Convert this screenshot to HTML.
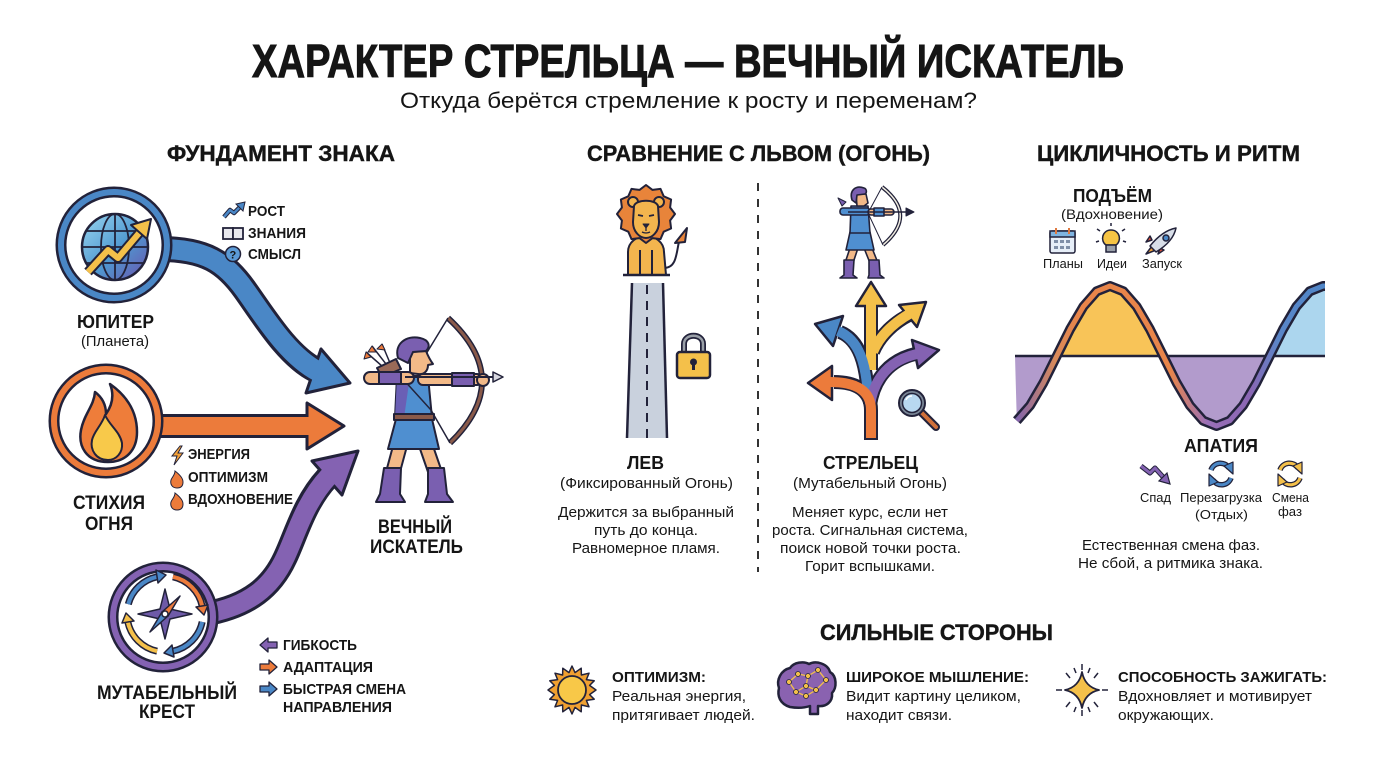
<!DOCTYPE html>
<html><head><meta charset="utf-8"><style>
html,body{margin:0;padding:0;background:#fff;}
svg{display:block;}
text{font-family:"Liberation Sans","DejaVu Sans",sans-serif;fill:#151515;}
.b{font-weight:700;}
.t{stroke:#151515;stroke-width:1;}
.h{stroke:#151515;stroke-width:0.4;}
</style></head><body>
<svg width="1376" height="768" viewBox="0 0 1376 768" xmlns="http://www.w3.org/2000/svg">
<defs>
<linearGradient id="gl" x1="0" y1="0" x2="1" y2="1"><stop offset="0" stop-color="#9ad6f0"/><stop offset="0.55" stop-color="#4f98d0"/><stop offset="1" stop-color="#6a52ae"/></linearGradient>
<linearGradient id="wv" gradientUnits="userSpaceOnUse" x1="1015" y1="0" x2="1325" y2="0">
<stop offset="0" stop-color="#7d62b0"/><stop offset="0.13" stop-color="#d88a5a"/><stop offset="0.2" stop-color="#e8854a"/><stop offset="0.5" stop-color="#e8854a"/><stop offset="0.62" stop-color="#9a70b8"/><stop offset="0.76" stop-color="#8a66b4"/><stop offset="0.85" stop-color="#5a86c8"/><stop offset="1" stop-color="#4f86c8"/></linearGradient>
</defs>
<rect width="1376" height="768" fill="#fff"/>

<!-- Titles -->
<text x="252" y="77" font-size="46" class="b t" textLength="872" lengthAdjust="spacingAndGlyphs">ХАРАКТЕР СТРЕЛЬЦА — ВЕЧНЫЙ ИСКАТЕЛЬ</text>
<text x="400" y="108" font-size="22" textLength="577" lengthAdjust="spacingAndGlyphs">Откуда берётся стремление к росту и переменам?</text>
<text x="167" y="161" font-size="22" class="b h" textLength="228" lengthAdjust="spacingAndGlyphs">ФУНДАМЕНТ ЗНАКА</text>
<text x="587" y="161" font-size="22" class="b h" textLength="343" lengthAdjust="spacingAndGlyphs">СРАВНЕНИЕ С ЛЬВОМ (ОГОНЬ)</text>
<text x="1037" y="161" font-size="22" class="b h" textLength="263" lengthAdjust="spacingAndGlyphs">ЦИКЛИЧНОСТЬ И РИТМ</text>

<!-- ===== LEFT SECTION ===== -->
<path d="M160,249 C205,249 225,262 245,290 C265,318 288,356 316,370" fill="none" stroke="#22223a" stroke-width="26"/>
<polygon points="350,383 321,349 306,393" fill="#4a87c6" stroke="#22223a" stroke-width="3" stroke-linejoin="round"/>
<path d="M160,249 C205,249 225,262 245,290 C265,318 288,356 319,372" fill="none" stroke="#4a87c6" stroke-width="20"/>
<rect x="150" y="414" width="158" height="24" fill="#22223a"/>
<polygon points="344,426 307,403 307,449" fill="#ec7b3b" stroke="#22223a" stroke-width="3" stroke-linejoin="round"/>
<rect x="150" y="417" width="161" height="18" fill="#ec7b3b"/>
<path d="M205,614 C250,606 272,586 285,558 C296,535 304,503 327,478" fill="none" stroke="#22223a" stroke-width="25"/>
<polygon points="358,451 312,461 342,495" fill="#8462b2" stroke="#22223a" stroke-width="3" stroke-linejoin="round"/>
<path d="M205,614 C250,606 272,586 285,558 C296,535 304,503 329,476" fill="none" stroke="#8462b2" stroke-width="19"/>

<circle cx="114" cy="245" r="53" fill="#fff" stroke="#22223a" stroke-width="11"/>
<circle cx="114" cy="245" r="53" fill="none" stroke="#4a87c6" stroke-width="6"/>
<circle cx="115" cy="247" r="33" fill="url(#gl)" stroke="#22223a" stroke-width="2.5"/>
<g fill="none" stroke="#22223a" stroke-width="1.8">
<ellipse cx="115" cy="247" rx="14" ry="33"/>
<line x1="115" y1="214" x2="115" y2="280"/>
<line x1="87" y1="231" x2="143" y2="231"/>
<line x1="82" y1="247" x2="148" y2="247"/>
<line x1="87" y1="263" x2="143" y2="263"/>
</g>
<polyline points="88,272 108,250 118,258 140,232" fill="none" stroke="#22223a" stroke-width="10" stroke-linejoin="round"/>
<polyline points="88,272 108,250 118,258 140,232" fill="none" stroke="#f4c04a" stroke-width="6" stroke-linejoin="round"/>
<polygon points="151,219 147,239 131,225" fill="#f4c04a" stroke="#22223a" stroke-width="2" stroke-linejoin="round"/>
<text x="77" y="328" font-size="18" class="b" textLength="77" lengthAdjust="spacingAndGlyphs">ЮПИТЕР</text>
<text x="81" y="346" font-size="15" textLength="68" lengthAdjust="spacingAndGlyphs">(Планета)</text>

<circle cx="106" cy="421" r="52" fill="#fff" stroke="#22223a" stroke-width="11"/>
<circle cx="106" cy="421" r="52" fill="none" stroke="#ec7b3b" stroke-width="6"/>
<path d="M108,462 C86,462 78,446 81,430 C84,414 94,406 95,392 C103,398 106,406 106,414 C113,404 114,394 110,384 C127,396 137,412 137,432 C137,450 126,462 108,462 Z" fill="#ee7d3a" stroke="#22223a" stroke-width="2.5" stroke-linejoin="round"/>
<path d="M108,460 C96,460 90,450 92,440 C94,431 102,425 105,415 C110,426 120,432 122,443 C123,453 116,460 108,460 Z" fill="#f8c94a" stroke="#22223a" stroke-width="2" stroke-linejoin="round"/>
<text x="73" y="509" font-size="19" class="b" textLength="72" lengthAdjust="spacingAndGlyphs">СТИХИЯ</text>
<text x="85" y="530" font-size="19" class="b" textLength="48" lengthAdjust="spacingAndGlyphs">ОГНЯ</text>

<circle cx="163" cy="617" r="50" fill="#fff" stroke="#22223a" stroke-width="11"/>
<circle cx="163" cy="617" r="50" fill="none" stroke="#8462b2" stroke-width="6"/>
<g fill="none" stroke-linecap="butt">
<path d="M128.3,604.2 A38,38 0 0 1 157.1,576.8" stroke="#22223a" stroke-width="7"/>
<path d="M128.3,604.2 A38,38 0 0 1 157.1,576.8" stroke="#4a87c6" stroke-width="4"/>
<path d="M172.9,576.8 A38,38 0 0 1 202.2,606.1" stroke="#22223a" stroke-width="7"/>
<path d="M172.9,576.8 A38,38 0 0 1 202.2,606.1" stroke="#ec7b3b" stroke-width="4"/>
<path d="M202.2,621.9 A38,38 0 0 1 172.9,651.2" stroke="#22223a" stroke-width="7"/>
<path d="M202.2,621.9 A38,38 0 0 1 172.9,651.2" stroke="#4a87c6" stroke-width="4"/>
<path d="M157.1,651.2 A38,38 0 0 1 127.8,621.9" stroke="#22223a" stroke-width="7"/>
<path d="M157.1,651.2 A38,38 0 0 1 127.8,621.9" stroke="#f4c04a" stroke-width="4"/>
</g>
<g stroke="#22223a" stroke-width="1.5" stroke-linejoin="round">
<polygon points="166,575 156,570 158,583" fill="#4a87c6"/>
<polygon points="204,615 208,605 196,607" fill="#ec7b3b"/>
<polygon points="164,653 174,657 172,645" fill="#4a87c6"/>
<polygon points="126,613 122,623 134,621" fill="#f4c04a"/>
<polygon points="165,589 170,609 192,614 170,619 165,639 160,619 138,614 160,609" fill="#6e5aa8"/>
<polygon points="180,596 168,616 162,612" fill="#ec7b3b"/>
<polygon points="150,632 162,612 168,616" fill="#4a87c6"/>
<circle cx="165" cy="614" r="3" fill="#fff"/>
</g>
<text x="97" y="699" font-size="19" class="b" textLength="140" lengthAdjust="spacingAndGlyphs">МУТАБЕЛЬНЫЙ</text>
<text x="139" y="718" font-size="19" class="b" textLength="56" lengthAdjust="spacingAndGlyphs">КРЕСТ</text>

<polyline points="224,217 230,210 234,213 241,206" fill="none" stroke="#22223a" stroke-width="4.5" stroke-linejoin="round"/>
<polyline points="224,217 230,210 234,213 241,206" fill="none" stroke="#4a87c6" stroke-width="2.5" stroke-linejoin="round"/>
<polygon points="245,202 236,204 243,211" fill="#4a87c6" stroke="#22223a" stroke-width="1"/>
<text x="248" y="216" font-size="15" class="b" textLength="37" lengthAdjust="spacingAndGlyphs">РОСТ</text>
<rect x="223" y="228" width="10" height="11" fill="#e8e8ee" stroke="#22223a" stroke-width="1.8"/>
<rect x="233" y="228" width="10" height="11" fill="#e8e8ee" stroke="#22223a" stroke-width="1.8"/>
<text x="248" y="238" font-size="15" class="b" textLength="58" lengthAdjust="spacingAndGlyphs">ЗНАНИЯ</text>
<circle cx="233" cy="254" r="7.5" fill="#5b9ad6" stroke="#22223a" stroke-width="1.5"/>
<text x="229.5" y="258.5" font-size="11" class="b">?</text>
<text x="248" y="259" font-size="15" class="b" textLength="53" lengthAdjust="spacingAndGlyphs">СМЫСЛ</text>

<polygon points="180,446 172,456 177,456 174,465 183,453 178,453 182,446" fill="#f4a23a" stroke="#22223a" stroke-width="1"/>
<text x="188" y="459" font-size="15" class="b" textLength="62" lengthAdjust="spacingAndGlyphs">ЭНЕРГИЯ</text>
<path d="M177,488 C172,488 170,484 171,480 C172,477 175,475 175,471 C179,474 183,478 183,482 C183,486 181,488 177,488 Z" fill="#ec7b3b" stroke="#22223a" stroke-width="1"/>
<text x="188" y="482" font-size="15" class="b" textLength="80" lengthAdjust="spacingAndGlyphs">ОПТИМИЗМ</text>
<path d="M177,510 C172,510 170,506 171,502 C172,499 175,497 175,493 C179,496 183,500 183,504 C183,508 181,510 177,510 Z" fill="#ec7b3b" stroke="#22223a" stroke-width="1"/>
<text x="188" y="504" font-size="15" class="b" textLength="105" lengthAdjust="spacingAndGlyphs">ВДОХНОВЕНИЕ</text>

<polygon points="260,645 268,638 268,642 277,642 277,648 268,648 268,652" fill="#8462b2" stroke="#22223a" stroke-width="1.3" stroke-linejoin="round"/>
<text x="283" y="650" font-size="15" class="b" textLength="74" lengthAdjust="spacingAndGlyphs">ГИБКОСТЬ</text>
<polygon points="277,667 269,660 269,664 260,664 260,670 269,670 269,674" fill="#ec7b3b" stroke="#22223a" stroke-width="1.3" stroke-linejoin="round"/>
<text x="283" y="672" font-size="15" class="b" textLength="90" lengthAdjust="spacingAndGlyphs">АДАПТАЦИЯ</text>
<polygon points="277,689 269,682 269,686 260,686 260,692 269,692 269,696" fill="#4a87c6" stroke="#22223a" stroke-width="1.3" stroke-linejoin="round"/>
<text x="283" y="694" font-size="15" class="b" textLength="123" lengthAdjust="spacingAndGlyphs">БЫСТРАЯ СМЕНА</text>
<text x="283" y="712" font-size="15" class="b" textLength="109" lengthAdjust="spacingAndGlyphs">НАПРАВЛЕНИЯ</text>

<!-- Big archer -->
<g stroke="#22223a" stroke-width="2" stroke-linejoin="round">
<path d="M448,318 Q515,380 450,443" fill="none" stroke-width="6"/>
<path d="M448,318 Q515,380 450,443" fill="none" stroke="#8a5a4a" stroke-width="3"/>
<polyline points="448,318 412,377 450,443" fill="none" stroke-width="1.5"/>
<line x1="386" y1="364" x2="372" y2="346" stroke-width="1.5"/>
<line x1="382" y1="366" x2="366" y2="352" stroke-width="1.5"/>
<line x1="390" y1="363" x2="382" y2="344" stroke-width="1.5"/>
<polygon points="372,346 368,352 376,352" fill="#ec7b3b" stroke-width="1"/>
<polygon points="366,352 364,359 371,357" fill="#ec7b3b" stroke-width="1"/>
<polygon points="382,344 377,349 385,350" fill="#ec7b3b" stroke-width="1"/>
<polygon points="377,368 396,359 401,369 382,377" fill="#9a6a58"/>
<polygon points="393,446 407,446 400,472 386,472" fill="#f2b988"/>
<polygon points="419,446 433,446 442,472 428,472" fill="#f2b988"/>
<path d="M384,468 L401,468 L400,494 L405,502 L376,502 L380,494 Z" fill="#7a5fb0"/>
<path d="M428,468 L444,468 L447,494 L453,502 L425,502 L428,494 Z" fill="#7a5fb0"/>
<polygon points="396,419 432,419 439,449 388,449" fill="#4f8fd0"/>
<polygon points="397,376 428,376 432,418 395,418" fill="#4f8fd0"/>
<polygon points="397,376 410,376 404,418 395,418" fill="#6a5fb5" stroke="none"/>
<line x1="402" y1="378" x2="431" y2="410" stroke-width="1.5"/>
<rect x="394" y="414" width="40" height="6" fill="#8a5a4a"/>
<path d="M410,352 L426,351 C428,356 430,360 433,364 L428,365 C428,371 424,375 418,374 L410,373 Z" fill="#f2b988"/>
<path d="M398,358 C394,344 406,335 420,338 C429,340 431,346 426,351 L413,352 L408,363 Z" fill="#7a5fb0"/>
<rect x="364" y="372" width="50" height="12" rx="6" fill="#f2b988"/>
<rect x="379" y="372" width="22" height="12" fill="#7a5fb0"/>
<rect x="418" y="374" width="64" height="11" rx="5" fill="#f2b988"/>
<rect x="452" y="373" width="22" height="13" fill="#7a5fb0"/>
<circle cx="483" cy="380" r="6" fill="#f2b988"/>
<line x1="405" y1="377" x2="496" y2="377" stroke-width="2"/>
<polygon points="503,377 493,372 493,382" fill="#d8d8e0" stroke-width="1.5"/>
</g>
<text x="378" y="533" font-size="19" class="b" textLength="74" lengthAdjust="spacingAndGlyphs">ВЕЧНЫЙ</text>
<text x="370" y="553" font-size="19" class="b" textLength="93" lengthAdjust="spacingAndGlyphs">ИСКАТЕЛЬ</text>

<!-- ===== MIDDLE SECTION ===== -->
<line x1="758" y1="183" x2="758" y2="572" stroke="#333" stroke-width="2" stroke-dasharray="8 8"/>

<g stroke="#22223a" stroke-width="2" stroke-linejoin="round">
<path d="M664,268 C678,268 676,250 680,238" fill="none"/>
<polygon points="675,243 687,228 685,242" fill="#e8843a"/>
<path d="M628,275 L628,252 C628,242 637,236 646,236 C655,236 664,242 664,252 L666,275 Z" fill="#f3b54e"/>
<line x1="640" y1="250" x2="640" y2="275"/>
<line x1="652" y1="250" x2="652" y2="275"/>
<line x1="623" y1="275" x2="670" y2="275" stroke-width="2.5"/>
<polygon points="675,214 670.1,220.5 671.1,228.5 663.7,231.7 660.5,239.1 652.5,238.1 646,243 639.5,238.1 631.5,239.1 628.3,231.7 620.9,228.5 621.9,220.5 617,214 621.9,207.5 620.9,199.5 628.3,196.3 631.5,188.9 639.5,189.9 646,185 652.5,189.9 660.5,188.9 663.7,196.3 671.1,199.5 670.1,207.5" fill="#e8843a"/>
<circle cx="633" cy="202" r="5" fill="#f3b54e"/>
<circle cx="659" cy="202" r="5" fill="#f3b54e"/>
<path d="M634,206 C636,199 656,199 658,206 L659,222 C659,232 652,238 646,238 C640,238 633,232 633,222 Z" fill="#f3b54e"/>
<line x1="638" y1="215" x2="643" y2="216" stroke-width="1.8"/>
<line x1="649" y1="216" x2="654" y2="215" stroke-width="1.8"/>
<polygon points="643,224 649,224 646,228" fill="#22223a" stroke-width="1"/>
<path d="M646,228 L646,231 M642,232 Q646,234 650,232" fill="none" stroke-width="1.3"/>
</g>
<polygon points="632,283 663,283 667,438 627,438" fill="#c9d1dd"/>
<line x1="632" y1="283" x2="627" y2="438" stroke="#22223a" stroke-width="2.5"/>
<line x1="663" y1="283" x2="667" y2="438" stroke="#22223a" stroke-width="2.5"/>
<line x1="647" y1="285" x2="647" y2="438" stroke="#22223a" stroke-width="2" stroke-dasharray="9 7"/>
<path d="M684,353 L684,344 C684,333 703,333 703,344 L703,353" fill="none" stroke="#22223a" stroke-width="6"/>
<path d="M684,353 L684,344 C684,333 703,333 703,344 L703,353" fill="none" stroke="#9aa0a8" stroke-width="2.5"/>
<rect x="677" y="352" width="33" height="26" rx="3" fill="#f4c04a" stroke="#22223a" stroke-width="2.5"/>
<circle cx="693.5" cy="362" r="3.5" fill="#22223a"/>
<rect x="692" y="362" width="3" height="8" fill="#22223a"/>

<text x="627" y="469" font-size="18" class="b" textLength="37" lengthAdjust="spacingAndGlyphs">ЛЕВ</text>
<text x="560" y="488" font-size="14.5" textLength="173" lengthAdjust="spacingAndGlyphs">(Фиксированный Огонь)</text>
<text x="558" y="517" font-size="14.5" textLength="176" lengthAdjust="spacingAndGlyphs">Держится за выбранный</text>
<text x="594" y="535" font-size="14.5" textLength="104" lengthAdjust="spacingAndGlyphs">путь до конца.</text>
<text x="572" y="553" font-size="14.5" textLength="148" lengthAdjust="spacingAndGlyphs">Равномерное пламя.</text>

<g stroke="#22223a" stroke-width="1.6" stroke-linejoin="round">
<path d="M882,187 Q918,215 883,245" fill="none" stroke-width="4"/>
<path d="M882,187 Q918,215 883,245" fill="none" stroke="#f0ece0" stroke-width="1.5"/>
<polyline points="882,187 868,213 883,245" fill="none" stroke-width="1"/>
<polygon points="850,248 858,248 853,263 845,263" fill="#f2b988"/>
<polygon points="864,248 872,248 878,263 870,263" fill="#f2b988"/>
<polygon points="844,260 854,260 853,275 857,278 840,278 844,275" fill="#7a5fb0"/>
<polygon points="869,260 879,260 880,275 884,278 868,278 869,275" fill="#7a5fb0"/>
<polygon points="850,232 870,232 874,250 846,250" fill="#4f8fd0"/>
<polygon points="851,206 868,206 870,233 850,233" fill="#4f8fd0"/>
<rect x="840" y="208" width="30" height="7" rx="3" fill="#4f8fd0"/>
<rect x="868" y="209" width="26" height="6" rx="3" fill="#f2b988"/>
<rect x="874" y="208" width="10" height="8" fill="#4f8fd0"/>
<path d="M856,194 L866,194 L868,203 L864,206 L857,206 Z" fill="#f2b988"/>
<path d="M852,200 C849,190 856,185 864,188 C867,189 867,193 865,194 L857,195 L856,203 Z" fill="#7a5fb0"/>
<line x1="848" y1="212" x2="908" y2="212" stroke-width="1.6"/>
<polygon points="914,212 906,208 906,216" fill="#22223a" stroke-width="1"/>
<polygon points="842,206 838,198 846,202" fill="#7a5fb0" stroke-width="1"/>
</g>

<g stroke-linejoin="round" fill="none">
<path d="M871,370 L871,304" stroke="#22223a" stroke-width="14"/>
<path d="M873,352 C880,335 895,322 909,315" stroke="#22223a" stroke-width="14"/>
<path d="M868,395 C866,365 860,340 840,332" stroke="#22223a" stroke-width="14"/>
<path d="M870,405 C874,378 890,360 915,354" stroke="#22223a" stroke-width="14"/>
<path d="M871,440 L871,410 C871,392 858,382 834,382" stroke="#22223a" stroke-width="14"/>
</g>
<g stroke="#22223a" stroke-width="2.5" stroke-linejoin="round">
<polygon points="871,282 856,306 886,306" fill="#f4c04a"/>
<polygon points="926,302 917,327 899,305" fill="#f4c04a"/>
<polygon points="815,324 843,316 833,346" fill="#4a87c6"/>
<polygon points="939,350 918,368 912,340" fill="#8462b2"/>
<polygon points="808,383 832,366 832,400" fill="#ec7b3b"/>
</g>
<g stroke-linejoin="round" fill="none">
<path d="M871,370 L871,302" stroke="#f4c04a" stroke-width="10"/>
<path d="M873,352 C880,335 895,322 911,313" stroke="#f4c04a" stroke-width="10"/>
<path d="M868,395 C866,365 860,340 838,331" stroke="#4a87c6" stroke-width="10"/>
<path d="M870,405 C874,378 890,360 917,354" stroke="#8462b2" stroke-width="10"/>
<path d="M871,440 L871,410 C871,392 858,382 830,382" stroke="#ec7b3b" stroke-width="10"/>
</g>
<line x1="864" y1="439" x2="878" y2="439" stroke="#22223a" stroke-width="2"/>
<line x1="921" y1="412" x2="936" y2="427" stroke="#22223a" stroke-width="8" stroke-linecap="round"/>
<line x1="921" y1="412" x2="936" y2="427" stroke="#d0703a" stroke-width="4" stroke-linecap="round"/>
<circle cx="912" cy="403" r="13" fill="#7a8696" stroke="#22223a" stroke-width="2"/>
<circle cx="912" cy="403" r="9.5" fill="#b8d8f0" stroke="#22223a" stroke-width="1.5"/>
<path d="M906,400 A6,6 0 0 1 912,396" fill="none" stroke="#fff" stroke-width="1.5"/>

<text x="823" y="469" font-size="18" class="b" textLength="95" lengthAdjust="spacingAndGlyphs">СТРЕЛЬЕЦ</text>
<text x="793" y="488" font-size="14.5" textLength="154" lengthAdjust="spacingAndGlyphs">(Мутабельный Огонь)</text>
<text x="792" y="517" font-size="14.5" textLength="156" lengthAdjust="spacingAndGlyphs">Меняет курс, если нет</text>
<text x="772" y="535" font-size="14.5" textLength="196" lengthAdjust="spacingAndGlyphs">роста. Сигнальная система,</text>
<text x="780" y="553" font-size="14.5" textLength="181" lengthAdjust="spacingAndGlyphs">поиск новой точки роста.</text>
<text x="805" y="571" font-size="14.5" textLength="130" lengthAdjust="spacingAndGlyphs">Горит вспышками.</text>

<!-- ===== RIGHT SECTION ===== -->
<text x="1073" y="202" font-size="18" class="b" textLength="79" lengthAdjust="spacingAndGlyphs">ПОДЪЁМ</text>
<text x="1061" y="219" font-size="14" textLength="102" lengthAdjust="spacingAndGlyphs">(Вдохновение)</text>
<rect x="1050" y="231" width="25" height="22" rx="2" fill="#e6eef8" stroke="#22223a" stroke-width="1.5"/>
<rect x="1050" y="231" width="25" height="6" fill="#7fb4e0" stroke="#22223a" stroke-width="1.5"/>
<line x1="1056" y1="228" x2="1056" y2="234" stroke="#e07a40" stroke-width="2"/>
<line x1="1069" y1="228" x2="1069" y2="234" stroke="#e07a40" stroke-width="2"/>
<g fill="#7f8fa8"><rect x="1054" y="240" width="4" height="3"/><rect x="1060" y="240" width="4" height="3"/><rect x="1066" y="240" width="4" height="3"/><rect x="1054" y="246" width="4" height="3"/><rect x="1060" y="246" width="4" height="3"/><rect x="1066" y="246" width="4" height="3"/></g>
<g stroke="#22223a" stroke-width="1.5">
<line x1="1111" y1="226" x2="1111" y2="223"/><line x1="1100" y1="231" x2="1097" y2="229"/><line x1="1122" y1="231" x2="1125" y2="229"/><line x1="1099" y1="241" x2="1096" y2="242"/><line x1="1123" y1="241" x2="1126" y2="242"/>
<path d="M1106,245 C1100,241 1102,230 1111,230 C1120,230 1122,241 1116,245 Z" fill="#f6c445"/>
<rect x="1106" y="245" width="10" height="7" fill="#9aa0aa"/>
</g>
<g stroke="#22223a" stroke-width="1.5" stroke-linejoin="round">
<polygon points="1152,246 1146,254 1156,250" fill="#f4a23a"/>
<polygon points="1152,240 1146,242 1150,236" fill="#e0503a"/>
<polygon points="1160,248 1158,254 1164,250" fill="#e0503a"/>
<path d="M1150,246 L1156,252 C1166,246 1174,238 1176,228 C1166,230 1158,236 1150,246 Z" fill="#d8dee8"/>
<circle cx="1166" cy="238" r="3" fill="#4a87c6"/>
</g>
<text x="1043" y="268" font-size="12.5" textLength="40" lengthAdjust="spacingAndGlyphs">Планы</text>
<text x="1097" y="268" font-size="12.5" textLength="30" lengthAdjust="spacingAndGlyphs">Идеи</text>
<text x="1142" y="268" font-size="12.5" textLength="40" lengthAdjust="spacingAndGlyphs">Запуск</text>

<path d="M1056.75,356 L1070.1,329.2 1083.4,306.5 1096.7,291.3 1110,286 1123.3,291.3 1136.6,306.5 1149.9,329.2 1163.25,356 Z" fill="#f8c458"/>
<path d="M1015,356 L1016.8,420.7 1030.1,405.5 1043.4,382.8 1056.75,356 Z" fill="#b29bcc"/>
<path d="M1163.25,356 L1176.6,382.8 1189.9,405.5 1203.2,420.7 1216.5,426 1229.8,420.7 1243.1,405.5 1256.4,382.8 1269.75,356 Z" fill="#b29bcc"/>
<path d="M1269.75,356 L1283.1,329.2 1296.4,306.5 1309.7,291.3 1325,286 1325,356 Z" fill="#acd6ee"/>
<line x1="1015" y1="356" x2="1325" y2="356" stroke="#22223a" stroke-width="2.5"/>
<polyline points="1016.8,420.7 1030.1,405.5 1043.4,382.8 1056.75,356 1070.1,329.2 1083.4,306.5 1096.7,291.3 1110,286 1123.3,291.3 1136.6,306.5 1149.9,329.2 1163.25,356 1176.6,382.8 1189.9,405.5 1203.2,420.7 1216.5,426 1229.8,420.7 1243.1,405.5 1256.4,382.8 1269.75,356 1283.1,329.2 1296.4,306.5 1309.7,291.3 1323,286 1325,286" fill="none" stroke="#22223a" stroke-width="10" stroke-linejoin="round"/>
<polyline points="1016.8,420.7 1030.1,405.5 1043.4,382.8 1056.75,356 1070.1,329.2 1083.4,306.5 1096.7,291.3 1110,286 1123.3,291.3 1136.6,306.5 1149.9,329.2 1163.25,356 1176.6,382.8 1189.9,405.5 1203.2,420.7 1216.5,426 1229.8,420.7 1243.1,405.5 1256.4,382.8 1269.75,356 1283.1,329.2 1296.4,306.5 1309.7,291.3 1323,286 1325,286" fill="none" stroke="url(#wv)" stroke-width="5" stroke-linejoin="round"/>

<text x="1184" y="452" font-size="18" class="b" textLength="74" lengthAdjust="spacingAndGlyphs">АПАТИЯ</text>
<polyline points="1141,466 1150,473 1155,468 1164,478" fill="none" stroke="#22223a" stroke-width="5" stroke-linejoin="round"/>
<polyline points="1141,466 1150,473 1155,468 1164,478" fill="none" stroke="#8462b2" stroke-width="3" stroke-linejoin="round"/>
<polygon points="1170,484 1159,481 1167,473" fill="#8462b2" stroke="#22223a" stroke-width="1.2"/>
<g fill="none">
<path d="M1211,470 A10,10 0 0 1 1229,468" stroke="#22223a" stroke-width="5.5"/>
<path d="M1211,470 A10,10 0 0 1 1229,468" stroke="#4a87c6" stroke-width="3"/>
<path d="M1231,478 A10,10 0 0 1 1213,480" stroke="#22223a" stroke-width="5.5"/>
<path d="M1231,478 A10,10 0 0 1 1213,480" stroke="#4a87c6" stroke-width="3"/>
<path d="M1280,470 A10,10 0 0 1 1298,468" stroke="#22223a" stroke-width="5.5"/>
<path d="M1280,470 A10,10 0 0 1 1298,468" stroke="#f4c04a" stroke-width="3"/>
<path d="M1300,478 A10,10 0 0 1 1282,480" stroke="#22223a" stroke-width="5.5"/>
<path d="M1300,478 A10,10 0 0 1 1282,480" stroke="#f4c04a" stroke-width="3"/>
</g>
<g stroke="#22223a" stroke-width="1.2" stroke-linejoin="round">
<polygon points="1233,474 1224,466 1233,462" fill="#4a87c6"/>
<polygon points="1209,474 1218,482 1209,486" fill="#4a87c6"/>
<polygon points="1302,474 1293,466 1302,462" fill="#f4c04a"/>
<polygon points="1278,474 1287,482 1278,486" fill="#f4c04a"/>
</g>
<text x="1140" y="502" font-size="12.5" textLength="31" lengthAdjust="spacingAndGlyphs">Спад</text>
<text x="1180" y="502" font-size="12.5" textLength="82" lengthAdjust="spacingAndGlyphs">Перезагрузка</text>
<text x="1195" y="519" font-size="12.5" textLength="53" lengthAdjust="spacingAndGlyphs">(Отдых)</text>
<text x="1272" y="502" font-size="12.5" textLength="37" lengthAdjust="spacingAndGlyphs">Смена</text>
<text x="1278" y="516" font-size="12.5" textLength="24" lengthAdjust="spacingAndGlyphs">фаз</text>
<text x="1082" y="550" font-size="15" textLength="178" lengthAdjust="spacingAndGlyphs">Естественная смена фаз.</text>
<text x="1078" y="568" font-size="15" textLength="185" lengthAdjust="spacingAndGlyphs">Не сбой, а ритмика знака.</text>

<!-- ===== STRENGTHS ===== -->
<text x="820" y="640" font-size="22" class="b h" textLength="233" lengthAdjust="spacingAndGlyphs">СИЛЬНЫЕ СТОРОНЫ</text>
<polygon points="596,690 589.6,694.6 594.2,699.2 586.4,700.4 589,706.8 581.4,705 581.2,711.8 575,707.4 572,714 569,707.4 562.8,711.8 562.6,705 555,706.8 557.6,700.4 549.8,699.2 554.4,694.6 548,690 554.4,685.4 549.8,680.8 557.6,679.6 555,673.2 562.6,675 562.8,668.2 569,672.6 572,666 575,672.6 581.2,668.2 581.4,675 589,673.2 586.4,679.6 594.2,680.8 589.6,685.4" fill="#f0a030" stroke="#22223a" stroke-width="1.5" stroke-linejoin="round"/>
<circle cx="572" cy="690" r="14" fill="#f8c848" stroke="#22223a" stroke-width="1.8"/>
<text x="612" y="682" font-size="15" class="b" textLength="94" lengthAdjust="spacingAndGlyphs">ОПТИМИЗМ:</text>
<text x="612" y="701" font-size="14.5" textLength="134" lengthAdjust="spacingAndGlyphs">Реальная энергия,</text>
<text x="612" y="720" font-size="14.5" textLength="143" lengthAdjust="spacingAndGlyphs">притягивает людей.</text>
<path d="M790,707 C780,704 777,696 779,688 C776,680 781,670 790,668 C794,662 804,661 809,664 C816,660 828,664 830,672 C837,676 837,688 832,693 C833,702 826,707 818,706 L818,714 L810,714 L810,706 C804,708 796,708 790,707 Z" fill="#8a62b0" stroke="#22223a" stroke-width="2.5" stroke-linejoin="round"/>
<g stroke="#f4c04a" stroke-width="1.3" fill="none">
<polyline points="789,682 798,674 808,676 818,670 826,680 816,690 806,696 796,692 789,682"/>
<line x1="808" y1="676" x2="806" y2="686"/><line x1="806" y1="686" x2="816" y2="690"/><line x1="806" y1="686" x2="796" y2="692"/>
</g>
<g fill="#f4c04a" stroke="#22223a" stroke-width="0.8">
<circle cx="789" cy="682" r="2.5"/><circle cx="798" cy="674" r="2.5"/><circle cx="808" cy="676" r="2.5"/><circle cx="818" cy="670" r="2.5"/><circle cx="826" cy="680" r="2.5"/><circle cx="816" cy="690" r="2.5"/><circle cx="806" cy="696" r="2.5"/><circle cx="796" cy="692" r="2.5"/><circle cx="806" cy="686" r="2.5"/>
</g>
<text x="846" y="682" font-size="15" class="b" textLength="183" lengthAdjust="spacingAndGlyphs">ШИРОКОЕ МЫШЛЕНИЕ:</text>
<text x="846" y="701" font-size="14.5" textLength="175" lengthAdjust="spacingAndGlyphs">Видит картину целиком,</text>
<text x="846" y="720" font-size="14.5" textLength="106" lengthAdjust="spacingAndGlyphs">находит связи.</text>
<g stroke="#22223a" stroke-width="1.5">
<line x1="1082" y1="664" x2="1082" y2="670"/><line x1="1082" y1="710" x2="1082" y2="716"/>
<line x1="1056" y1="690" x2="1062" y2="690"/><line x1="1102" y1="690" x2="1108" y2="690"/>
<line x1="1066" y1="673" x2="1070" y2="678"/><line x1="1098" y1="673" x2="1094" y2="678"/>
<line x1="1066" y1="707" x2="1070" y2="702"/><line x1="1098" y1="707" x2="1094" y2="702"/>
<line x1="1074" y1="668" x2="1076" y2="673"/><line x1="1090" y1="668" x2="1088" y2="673"/>
<line x1="1074" y1="712" x2="1076" y2="707"/><line x1="1090" y1="712" x2="1088" y2="707"/>
</g>
<path d="M1082,672 Q1085,687 1099,690 Q1085,693 1082,708 Q1079,693 1065,690 Q1079,687 1082,672 Z" fill="#f4c04a" stroke="#22223a" stroke-width="1.8" stroke-linejoin="round"/>
<text x="1118" y="682" font-size="15" class="b" textLength="209" lengthAdjust="spacingAndGlyphs">СПОСОБНОСТЬ ЗАЖИГАТЬ:</text>
<text x="1118" y="701" font-size="14.5" textLength="194" lengthAdjust="spacingAndGlyphs">Вдохновляет и мотивирует</text>
<text x="1118" y="720" font-size="14.5" textLength="96" lengthAdjust="spacingAndGlyphs">окружающих.</text>
</svg>
</body></html>
